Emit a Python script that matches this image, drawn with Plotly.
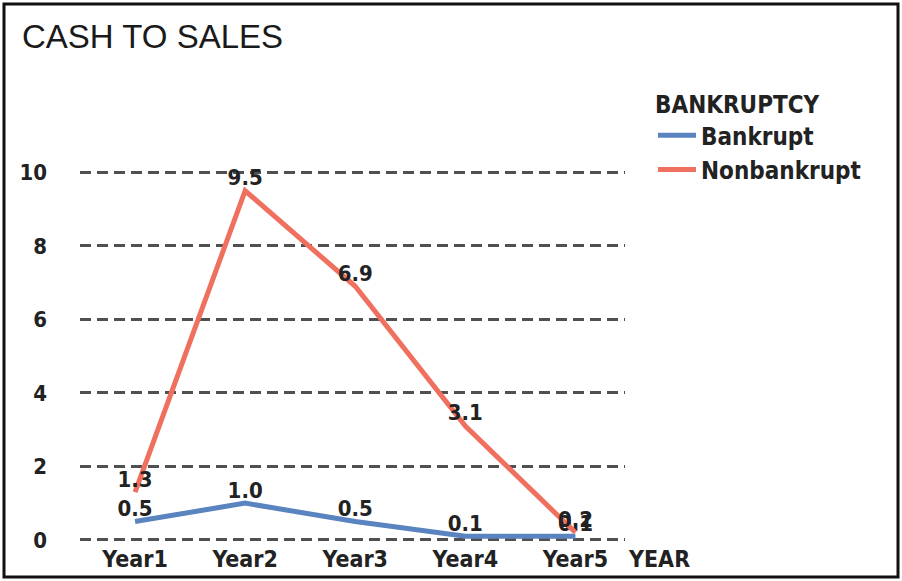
import plotly.graph_objects as go

years = ["Year1", "Year2", "Year3", "Year4", "Year5"]
bankrupt = [0.5, 1.0, 0.5, 0.1, 0.1]
nonbankrupt = [1.3, 9.5, 6.9, 3.1, 0.2]
y_ticks = [0, 2, 4, 6, 8, 10]

W, H = 902, 581
ML, MR, MT, MB = 80, W - 625, 154, 40
FONT = "DejaVu Sans Condensed"

fig = go.Figure()
fig.add_trace(go.Scatter(
    x=years, y=bankrupt, name="Bankrupt", mode="lines+text",
    line=dict(color="#5a84c0", width=5),
    text=[f"{v:.1f}" for v in bankrupt], textposition="top center",
    textfont=dict(family=FONT, size=22, color="#222222", weight="bold"),
    cliponaxis=False,
))
fig.add_trace(go.Scatter(
    x=years, y=nonbankrupt, name="Nonbankrupt", mode="lines+text",
    line=dict(color="#f0705f", width=5),
    text=[f"{v:.1f}" for v in nonbankrupt], textposition="top center",
    textfont=dict(family=FONT, size=22, color="#222222", weight="bold"),
    cliponaxis=False,
))

pw = W - ML - MR
ph = H - MT - MB
def px_x(x):
    return (x - ML) / pw
def px_y(y):
    return (H - MB - y) / ph

fig.update_layout(
    width=W, height=H,
    margin=dict(l=ML, r=MR, t=MT, b=MB, autoexpand=False),
    paper_bgcolor="white", plot_bgcolor="white",
    showlegend=True,
    legend=dict(
        title=dict(text="BANKRUPTCY", font=dict(family=FONT, size=24, color="#222222", weight="bold")),
        font=dict(family=FONT, size=24, color="#222222", weight="bold"),
        x=px_x(653), y=px_y(82), xanchor="left", yanchor="top",
        bgcolor="rgba(0,0,0,0)", itemwidth=38, tracegroupgap=0,
    ),
    xaxis=dict(
        type="category", range=[-0.5, 4.45], showgrid=False, zeroline=False,
        showline=False, ticks="", automargin=False,
        tickfont=dict(family=FONT, size=23, color="#222222", weight="bold"),
        ticklabelstandoff=2,
    ),
    yaxis=dict(
        range=[-0.03, 10.5], tickvals=y_ticks, showgrid=True,
        gridcolor="#505050", gridwidth=2.5, griddash="11px,6px",
        zeroline=False, showline=False, ticks="", automargin=False,
        tickfont=dict(family=FONT, size=22, color="#222222", weight="bold"),
        ticklabelstandoff=32,
    ),
    annotations=[
        dict(text="CASH TO SALES", xref="paper", yref="paper",
             x=px_x(20), y=px_y(37), xanchor="left", yanchor="middle",
             showarrow=False, font=dict(family="Liberation Sans", size=33, color="#1a1a1a")),
        dict(text="YEAR", xref="paper", yref="paper",
             x=px_x(626), y=px_y(559), xanchor="left", yanchor="middle",
             showarrow=False, font=dict(family=FONT, size=23, color="#222222", weight="bold")),
    ],
    shapes=[
        dict(type="rect", xref="paper", yref="paper",
             x0=px_x(4), x1=px_x(898), y0=px_y(4), y1=px_y(577),
             line=dict(color="#111111", width=3), fillcolor="rgba(0,0,0,0)", layer="above"),
    ],
)

fig.write_html("out.html")
